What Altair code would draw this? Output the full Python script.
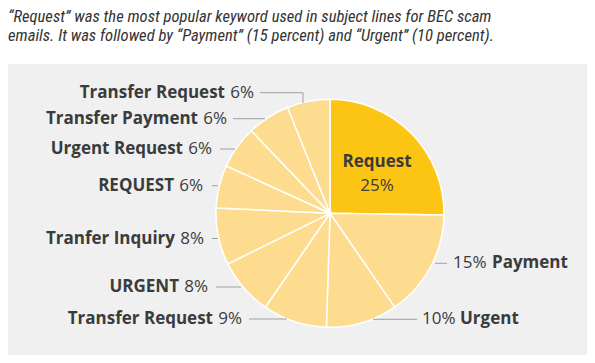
import altair as alt
import pandas as pd

# ---- data ----
keywords = ["Request", "Payment", "Urgent", "Transfer Request", "URGENT",
            "Tranfer Inquiry", "REQUEST", "Urgent Request", "Transfer Payment",
            "Transfer Request"]
shares = [25, 15, 10, 9, 8, 8, 6, 6, 6, 6]
title_lines = [
    "\u201cRequest\u201d was the most popular keyword used in subject lines for BEC scam",
    "emails. It was followed by \u201cPayment\u201d (15 percent) and \u201cUrgent\u201d (10 percent).",
]

# ---- layout (chart pixel coordinates) ----
CX, CY, R = 322, 205.3, 114
label_x = [None, 445, 414, 234, 200, 196, 195, 204, 219, 246]
label_y = [None, 255.3, 311.3, 311, 279, 230.5, 177.7, 141, 110.7, 84.7]
label_side = [None, "R", "R", "L", "L", "L", "L", "L", "L", "L"]
lead_x0 = [None, 427, 365, 241, 208, 204, 204, 212, 225, 252]
lead_x1 = [None, 439, 409, 279, 233, 210, 210, 227, 257, 295]

FONT = "Open Sans"
TXT = "#3b3b3b"
LINE = "#a0a0a0"

pie_df = pd.DataFrame({
    "idx": list(range(len(keywords))),
    "keyword": keywords,
    "share": shares,
    "hl": ["top" if i == 0 else "rest" for i in range(len(keywords))],
})

bg = alt.Chart(pd.DataFrame({"a": [0]})).mark_rect(color="#f0f0f0").encode(
    x=alt.value(0), x2=alt.value(583), y=alt.value(56), y2=alt.value(348))

pie = alt.Chart(pie_df).mark_arc(outerRadius=R, stroke="white", strokeWidth=1.5).encode(
    theta=alt.Theta("share:Q", stack=True),
    order=alt.Order("idx:Q", sort="ascending"),
    color=alt.Color("hl:N", scale=alt.Scale(domain=["top", "rest"], range=["#fdc513", "#fedc8f"]), legend=None),
    x=alt.value(CX), y=alt.value(CY),
)

names_l, pcts_l, names_r, pcts_r, leads = [], [], [], [], []
for i in range(1, len(keywords)):
    pct = f"{shares[i]}%"
    if label_side[i] == "L":
        pcts_l.append({"x": label_x[i], "y": label_y[i], "t": pct})
        names_l.append({"x": label_x[i] - 29, "y": label_y[i], "t": keywords[i]})
    else:
        w = 39 if i == 1 else 38
        pcts_r.append({"x": label_x[i], "y": label_y[i], "t": pct})
        names_r.append({"x": label_x[i] + w, "y": label_y[i], "t": keywords[i]})
    leads.append({"x0": lead_x0[i], "x1": lead_x1[i], "y0": label_y[i], "y1": label_y[i]})
leads.append({"x0": 295, "x1": 295, "y0": 84.7, "y1": 95})

def txt(rows, align, weight):
    return alt.Chart(pd.DataFrame(rows)).mark_text(
        font=FONT, fontSize=17, fontWeight=weight, color=TXT, align=align, baseline="middle"
    ).encode(x=alt.X("x:Q", scale=None), y=alt.Y("y:Q", scale=None), text="t:N")

lead_layer = alt.Chart(pd.DataFrame(leads)).mark_rule(color=LINE, strokeWidth=1).encode(
    x=alt.X("x0:Q", scale=None), x2="x1:Q", y=alt.Y("y0:Q", scale=None), y2="y1:Q")

inside = alt.Chart(pd.DataFrame([{"x": 369, "y": 153.7, "t": keywords[0]}])).mark_text(
    font=FONT, fontSize=17, fontWeight="bold", color=TXT, align="center", baseline="middle").encode(
    x=alt.X("x:Q", scale=None), y=alt.Y("y:Q", scale=None), text="t:N")
inside_pct = alt.Chart(pd.DataFrame([{"x": 369, "y": 177.5, "t": f"{shares[0]}%"}])).mark_text(
    font=FONT, fontSize=17, color=TXT, align="center", baseline="middle").encode(
    x=alt.X("x:Q", scale=None), y=alt.Y("y:Q", scale=None), text="t:N")

title = alt.Chart(pd.DataFrame({"t": ["\n".join(title_lines)]})).mark_text(
    font="Roboto Condensed", fontSize=16.6, fontStyle="italic", color="#333333",
    align="left", baseline="alphabetic", lineBreak="\n", lineHeight=18.5).encode(
    x=alt.value(0), y=alt.value(14), text="t:N")

chart = alt.layer(
    bg, pie, lead_layer,
    txt(names_l, "right", "bold"), txt(pcts_l, "right", "normal"),
    txt(pcts_r, "left", "normal"), txt(names_r, "left", "bold"),
    inside, inside_pct, title,
).properties(
    width=579, height=347, autosize=alt.AutoSizeParams(type="none"), padding=0
).configure_view(stroke=None)

chart.save("out.html", embed_options={"renderer": "svg", "actions": False})
